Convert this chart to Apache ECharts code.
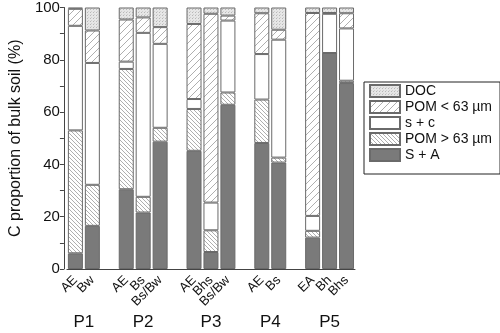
<!DOCTYPE html>
<html>
<head>
<meta charset="utf-8">
<script src="https://cdn.jsdelivr.net/npm/echarts@6/dist/echarts.min.js"></script>
<style>
  html, body { margin: 0; padding: 0; background: #fff; }
  #chart { width: 500px; height: 333px; }
</style>
</head>
<body>
<div id="chart"></div>
<script>
// horizons per profile, blank slots separate the profiles
const categories = ["AE", "Bw", "", "AE", "Bs", "Bs/Bw", "", "AE", "Bhs", "Bs/Bw", "", "AE", "Bs", "", "EA", "Bh", "Bhs"];
const groups = [
  { name: "P1", from: 0, to: 1 },
  { name: "P2", from: 3, to: 5 },
  { name: "P3", from: 7, to: 9 },
  { name: "P4", from: 11, to: 12 },
  { name: "P5", from: 14, to: 16 }
];
// C proportion (%) of each fraction, bottom to top
const sa    = [6,   16.5, null, 30.5, 21.6, 48.7, null, 45.2, 6.5,  62.8, null, 48.2, 40.7, null, 12,   82.6, 71.1];
const pomGt = [47,  15.7, null, 46,   6,    5.3,  null, 16,   8.3,  4.7,  null, 16.6, 1.9,  null, 2.6,  0,    0.9];
const sc    = [40,  46.6, null, 2.8,  62.7, 32.1, null, 3.8,  10.6, 27.5, null, 17.4, 45.1, null, 5.7,  15.0, 20];
const pomLt = [6.5, 12.4, null, 16.1, 5.9,  6.4,  null, 28.7, 72.2, 1.9,  null, 15.6, 3.8,  null, 77.6, 0.3,  5.8];
const doc   = [0.5, 8.8,  null, 4.6,  3.8,  7.5,  null, 6.3,  2.4,  3.1,  null, 2.2,  8.5,  null, 2.1,  2.1,  2.2];
const yTicks = [0, 20, 40, 60, 80, 100];

function hatch(dir, gap, bg, fg) {
  const c = document.createElement("canvas");
  c.width = gap; c.height = gap;
  const g = c.getContext("2d");
  g.fillStyle = bg; g.fillRect(0, 0, gap, gap);
  g.strokeStyle = fg; g.lineWidth = 0.8;
  g.beginPath();
  if (dir > 0) {
    g.moveTo(-1, gap + 1); g.lineTo(gap + 1, -1);
    g.moveTo(-1, 1); g.lineTo(1, -1);
    g.moveTo(gap - 1, gap + 1); g.lineTo(gap + 1, gap - 1);
  } else {
    g.moveTo(-1, -1); g.lineTo(gap + 1, gap + 1);
    g.moveTo(gap - 1, -1); g.lineTo(gap + 1, 1);
    g.moveTo(-1, gap - 1); g.lineTo(1, gap + 1);
  }
  g.stroke();
  return { image: c, repeat: "repeat" };
}
function dots() {
  const c = document.createElement("canvas");
  c.width = 3; c.height = 3;
  const g = c.getContext("2d");
  g.fillStyle = "#e6e6e6"; g.fillRect(0, 0, 3, 3);
  g.fillStyle = "#b8b8b8"; g.fillRect(0, 0, 1, 1);
  g.fillStyle = "#cfcfcf"; g.fillRect(1, 2, 1, 1);
  return { image: c, repeat: "repeat" };
}

const myChart = echarts.init(document.getElementById("chart"));
const font = "Liberation Sans, Arial, sans-serif";

function seg(name, data, color) {
  return {
    name: name,
    type: "bar",
    stack: "total",
    barWidth: 15,
    data: data,
    itemStyle: { color: color, borderColor: "#6a6a6a", borderWidth: 1 },
    emphasis: { disabled: true }
  };
}

const option = {
  animation: false,
  textStyle: { fontFamily: font },
  grid: { left: 46, top: 6, width: 309, bottom: 64 },
  legend: {
    orient: "vertical",
    left: 364, top: 82,
    itemWidth: 30, itemHeight: 12, itemGap: 2,
    padding: [2, 8, 12, 5],
    borderColor: "#222", borderWidth: 1,
    icon: "rect",
    textStyle: { fontSize: 14, color: "#111", fontFamily: font },
    data: ["DOC", "POM < 63 µm", "s + c", "POM > 63 µm", "S + A"]
  },
  xAxis: {
    type: "category",
    data: categories,
    axisLine: { lineStyle: { color: "#444", width: 1 } },
    axisTick: { show: false },
    axisLabel: { rotate: 45, interval: 0, margin: 9, fontSize: 13, color: "#111", fontFamily: font }
  },
  yAxis: {
    type: "value",
    min: 0, max: 100, interval: 10,
    offset: 3,
    name: "C proportion of bulk soil (%)",
    nameLocation: "middle",
    nameGap: 30,
    nameTextStyle: { fontSize: 16, color: "#111", fontFamily: font },
    axisLine: { show: true, lineStyle: { color: "#444" } },
    axisTick: { show: true, inside: false, length: 4, lineStyle: { color: "#444" } },
    axisLabel: {
      fontSize: 15, color: "#111", margin: 4, fontFamily: font,
      formatter: function (v) { return yTicks.indexOf(v) >= 0 ? String(v) : ""; }
    },
    splitLine: { show: false }
  },
  series: [
    seg("S + A", sa, "#7a7a7a"),
    seg("POM > 63 µm", pomGt, hatch(-1, 4, "#ffffff", "#9a9a9a")),
    seg("s + c", sc, "#ffffff"),
    seg("POM < 63 µm", pomLt, hatch(1, 7, "#ffffff", "#9a9a9a")),
    seg("DOC", doc, dots())
  ]
};
option && myChart.setOption(option, true);

// profile names under each group of horizons
const axisY = myChart.convertToPixel({ yAxisIndex: 0 }, 0);
myChart.setOption({
  graphic: groups.map(function (p) {
    const x0 = myChart.convertToPixel({ xAxisIndex: 0 }, p.from);
    const x1 = myChart.convertToPixel({ xAxisIndex: 0 }, p.to);
    return {
      type: "text",
      x: (x0 + x1) / 2, y: axisY + 53,
      style: { text: p.name, fill: "#111", font: "17px " + font, textAlign: "center", textVerticalAlign: "middle" }
    };
  })
});
</script>
</body>
</html>
